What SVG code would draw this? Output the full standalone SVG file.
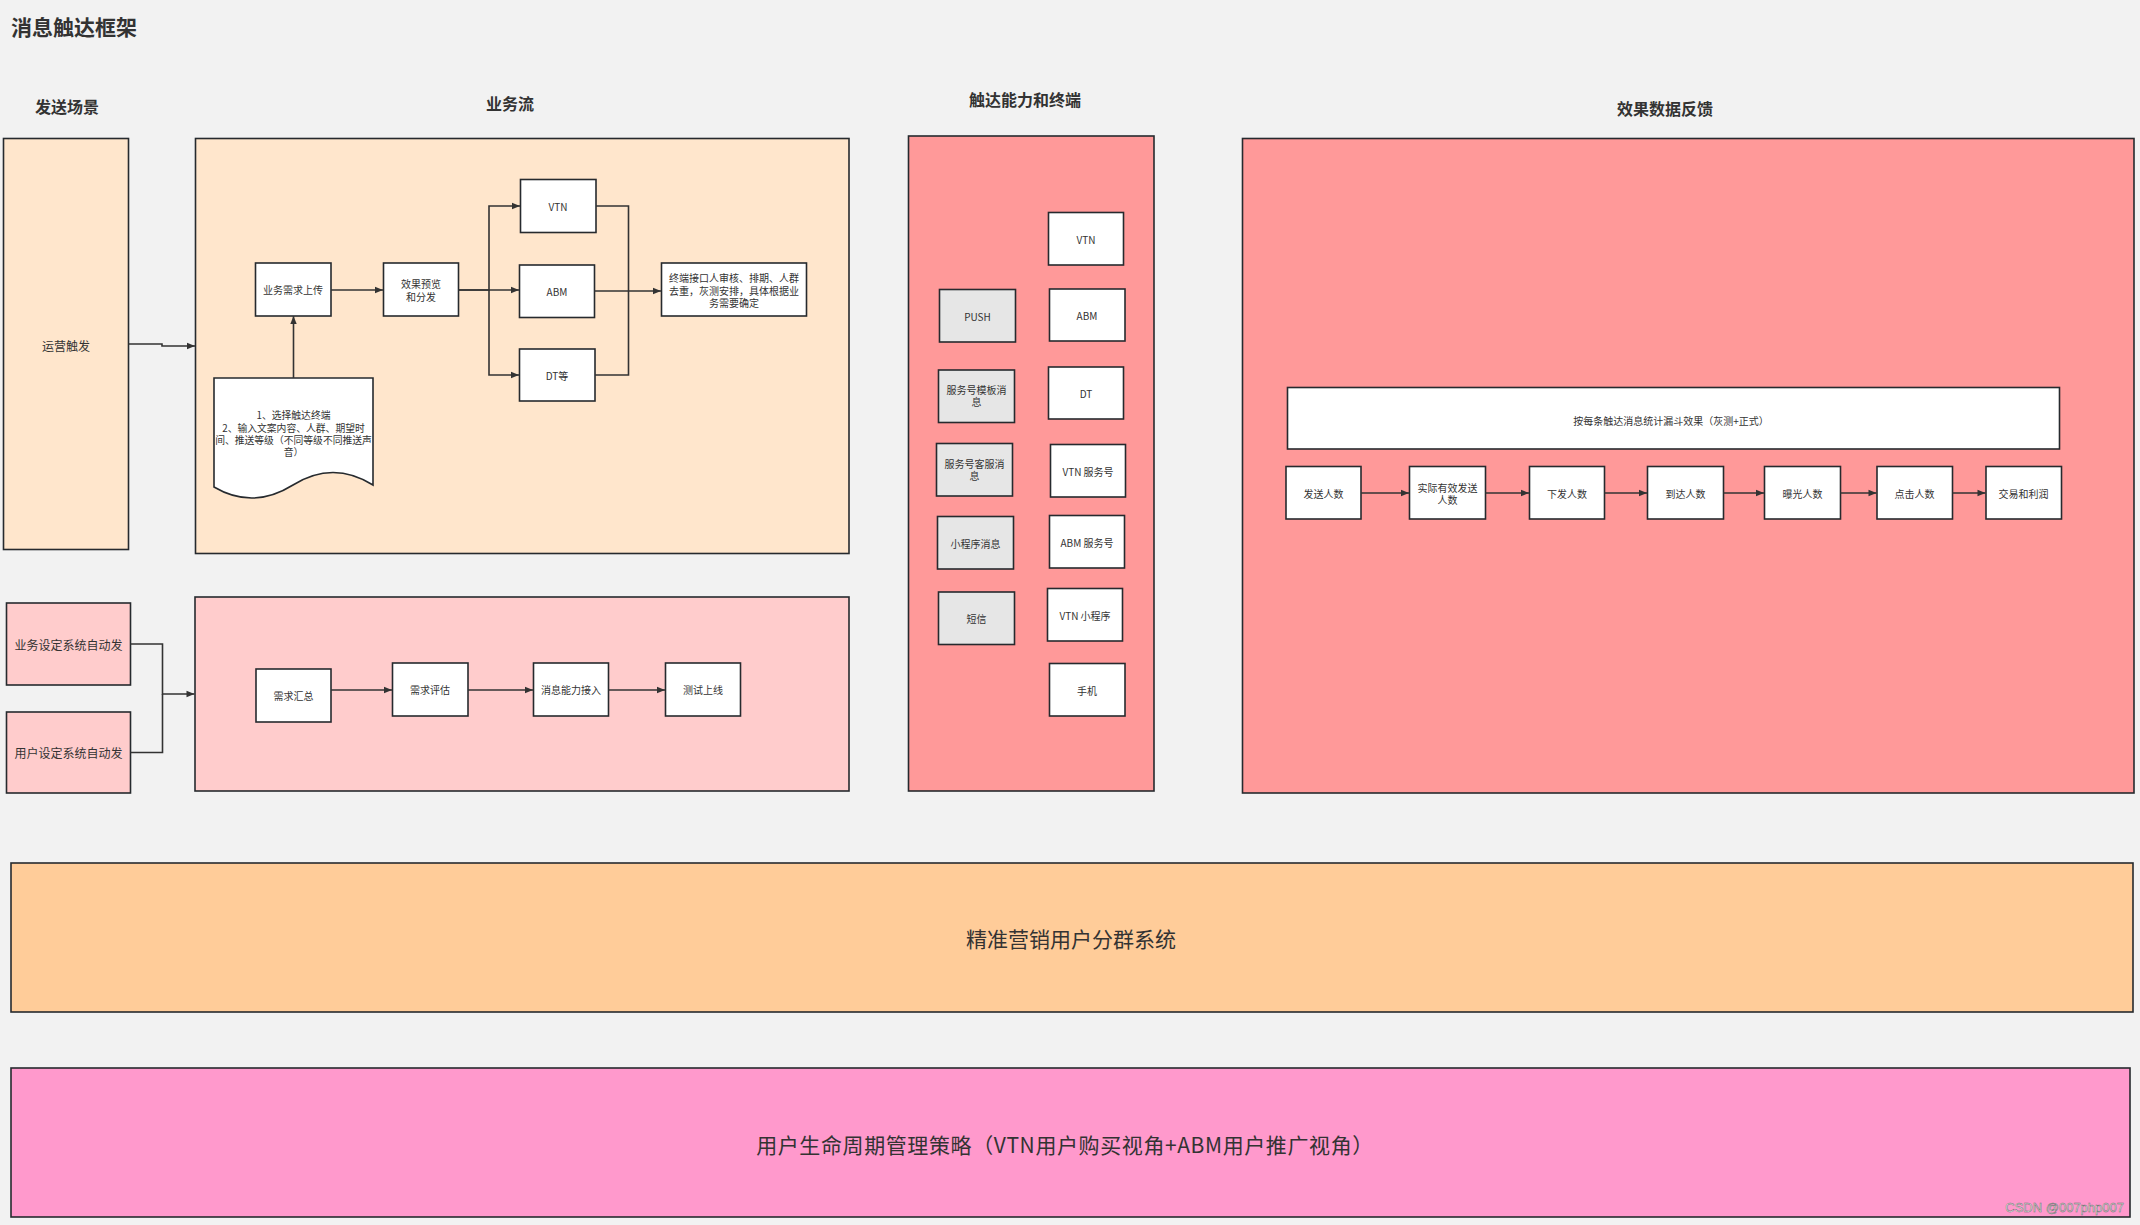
<svg xmlns="http://www.w3.org/2000/svg" width="2140" height="1225" viewBox="0 0 2140 1225">
<style>
text{font-family:"Noto Sans CJK SC","Noto Sans",sans-serif;fill:#333;}
.t{font-size:10px;text-anchor:middle;dominant-baseline:central;}
.m{font-size:12px;text-anchor:middle;dominant-baseline:central;}
.h{font-size:16px;font-weight:bold;text-anchor:middle;}
.big{font-size:21px;text-anchor:middle;dominant-baseline:central;}
.box{stroke:#262a2e;stroke-width:1.6;}
.w{fill:#ffffff;}
.g{fill:#e6e6e6;}
.peach{fill:#ffe6cc;}
.pink{fill:#ffcccc;}
.red{fill:#ff9999;}
.orange{fill:#ffcc99;}
.mag{fill:#ff99cc;}
.c{fill:none;stroke:#333;stroke-width:1.6;}
</style>
<defs>
<marker id="arr" viewBox="0 0 10 10" refX="10" refY="5" markerWidth="9" markerHeight="8" markerUnits="userSpaceOnUse" orient="auto">
<path d="M0,1 L10,5 L0,9 Z" fill="#333"/>
</marker>
</defs>
<rect x="0" y="0" width="2140" height="1225" fill="#f2f2f2"/>

<text x="11" y="35" font-size="21" font-weight="bold">消息触达框架</text>
<text class="h" x="67" y="113">发送场景</text>
<text class="h" x="510" y="110">业务流</text>
<text class="h" x="1025" y="106">触达能力和终端</text>
<text class="h" x="1665" y="115">效果数据反馈</text>

<!-- containers -->
<g id="yunying"><rect class="box peach" x="3.5" y="138.5" width="125" height="411"/><text class="m" x="66" y="345">运营触发</text></g>
<g id="biz-flow"><rect class="box peach" x="195.5" y="138.5" width="653.5" height="415"/></g>
<g id="auto-biz"><rect class="box pink" x="6.5" y="603" width="124" height="82"/><text class="m" x="68.5" y="644">业务设定系统自动发</text></g>
<g id="auto-user"><rect class="box pink" x="6.5" y="712" width="124" height="81"/><text class="m" x="68.5" y="752.5">用户设定系统自动发</text></g>
<g id="req-flow"><rect class="box pink" x="195" y="597" width="654" height="194"/></g>
<g id="touch"><rect class="box red" x="908.5" y="136" width="245.5" height="655"/></g>
<g id="feedback"><rect class="box red" x="1242.5" y="138.5" width="891.5" height="654.5"/></g>

<!-- business flow nodes -->
<g id="upload"><rect class="box w" x="255.5" y="263" width="75.5" height="53"/><text class="t" x="293" y="289.5">业务需求上传</text></g>
<g id="preview"><rect class="box w" x="383.5" y="263" width="75" height="53"/><text class="t" x="421" y="283.5">效果预览</text><text class="t" x="421" y="296">和分发</text></g>
<g id="vtn1"><rect class="box w" x="520.5" y="179.5" width="75.5" height="53"/><text class="t" x="558" y="206">VTN</text></g>
<g id="abm1"><rect class="box w" x="519.5" y="265" width="75" height="52.5"/><text class="t" x="557" y="291">ABM</text></g>
<g id="dt1"><rect class="box w" x="519.5" y="349" width="75.5" height="52"/><text class="t" x="557" y="375">DT等</text></g>
<g id="final"><rect class="box w" x="661.5" y="263" width="145" height="53"/><text class="t" x="734" y="277.5">终端接口人审核、排期、人群</text><text class="t" x="734" y="290">去重，灰测安排，具体根据业</text><text class="t" x="734" y="302.5">务需要确定</text></g>
<g id="doc"><path class="box w" d="M214,378 H373 V485 Q333,460 293,485 Q253,510 214,487 Z"/>
<text class="t" style="font-size:9.8px" x="293.5" y="415">1、选择触达终端</text>
<text class="t" style="font-size:9.8px" x="293.5" y="427.5">2、输入文案内容、人群、期望时</text>
<text class="t" style="font-size:9.8px" x="293.5" y="440">间、推送等级（不同等级不同推送声</text>
<text class="t" style="font-size:9.8px" x="293.5" y="452">音）</text></g>

<!-- request flow nodes -->
<g id="req-sum"><rect class="box w" x="256" y="669" width="75" height="53"/><text class="t" x="293.5" y="695.5">需求汇总</text></g>
<g id="req-eval"><rect class="box w" x="392.5" y="663" width="75.5" height="53"/><text class="t" x="430" y="689.5">需求评估</text></g>
<g id="req-access"><rect class="box w" x="533.5" y="663" width="75" height="53"/><text class="t" x="571" y="689.5">消息能力接入</text></g>
<g id="req-online"><rect class="box w" x="665.5" y="663" width="75" height="53"/><text class="t" x="703" y="689.5">测试上线</text></g>

<!-- touch nodes -->
<g id="t-vtn"><rect class="box w" x="1048.5" y="212.5" width="75" height="52.5"/><text class="t" x="1086" y="239">VTN</text></g>
<g id="t-push"><rect class="box g" x="939.5" y="289.5" width="76" height="52.5"/><text class="t" x="977.5" y="316">PUSH</text></g>
<g id="t-abm"><rect class="box w" x="1049.5" y="289" width="75.5" height="52"/><text class="t" x="1087" y="315">ABM</text></g>
<g id="t-tpl"><rect class="box g" x="938.5" y="370" width="76" height="52.5"/><text class="t" x="976.5" y="389.5">服务号模板消</text><text class="t" x="976.5" y="401.5">息</text></g>
<g id="t-dt"><rect class="box w" x="1048.5" y="367" width="75" height="52"/><text class="t" x="1086" y="393">DT</text></g>
<g id="t-cs"><rect class="box g" x="936.5" y="443.5" width="76" height="52.5"/><text class="t" x="974.5" y="463">服务号客服消</text><text class="t" x="974.5" y="475">息</text></g>
<g id="t-vtnsvc"><rect class="box w" x="1050.5" y="444.5" width="75" height="52.5"/><text class="t" x="1088" y="471">VTN 服务号</text></g>
<g id="t-mini"><rect class="box g" x="937.5" y="516.5" width="76" height="52.5"/><text class="t" x="975.5" y="543">小程序消息</text></g>
<g id="t-abmsvc"><rect class="box w" x="1049.5" y="515.5" width="75" height="52.5"/><text class="t" x="1087" y="542">ABM 服务号</text></g>
<g id="t-sms"><rect class="box g" x="938.5" y="592" width="76" height="52.5"/><text class="t" x="976.5" y="618">短信</text></g>
<g id="t-vtnmini"><rect class="box w" x="1047.5" y="588.5" width="75" height="52.5"/><text class="t" x="1085" y="615">VTN 小程序</text></g>
<g id="t-phone"><rect class="box w" x="1049.5" y="663.5" width="75.5" height="52.5"/><text class="t" x="1087" y="690">手机</text></g>

<!-- feedback nodes -->
<g id="f-stat"><rect class="box w" x="1287.5" y="387.5" width="772" height="61.5"/><text class="t" x="1671" y="420">按每条触达消息统计漏斗效果（灰测+正式）</text></g>
<g id="f-send"><rect class="box w" x="1286" y="466.5" width="75" height="52.5"/><text class="t" x="1323.5" y="493">发送人数</text></g>
<g id="f-valid"><rect class="box w" x="1409.5" y="466.5" width="76" height="52.5"/><text class="t" x="1447.5" y="487">实际有效发送</text><text class="t" x="1447.5" y="499.5">人数</text></g>
<g id="f-deliver"><rect class="box w" x="1529.5" y="466.5" width="75" height="52.5"/><text class="t" x="1567" y="493">下发人数</text></g>
<g id="f-arrive"><rect class="box w" x="1647.5" y="466.5" width="76" height="52.5"/><text class="t" x="1685.5" y="493">到达人数</text></g>
<g id="f-expose"><rect class="box w" x="1764.5" y="466.5" width="76" height="52.5"/><text class="t" x="1802.5" y="493">曝光人数</text></g>
<g id="f-click"><rect class="box w" x="1877" y="466.5" width="75.5" height="52.5"/><text class="t" x="1914.5" y="493">点击人数</text></g>
<g id="f-trade"><rect class="box w" x="1986" y="466.5" width="75.5" height="52.5"/><text class="t" x="2023.5" y="493">交易和利润</text></g>

<!-- bottom layers -->
<g id="segment-system"><rect class="box orange" x="11" y="863" width="2122" height="149" stroke-width="2"/><text class="big" x="1071" y="938">精准营销用户分群系统</text></g>
<g id="lifecycle"><rect class="box mag" x="11" y="1068" width="2119" height="149" stroke-width="2"/><text class="big" x="1065" y="1144" letter-spacing="0.6">用户生命周期管理策略（VTN用户购买视角+ABM用户推广视角）</text></g>

<!-- connectors -->
<g id="connectors">
<path class="c" d="M128.5,344 H162 V346 H195" marker-end="url(#arr)"/>
<path class="c" d="M293.5,378 V316" marker-end="url(#arr)"/>
<path class="c" d="M331,290 H383" marker-end="url(#arr)"/>
<path class="c" d="M458.5,290 H489 V206 H520" marker-end="url(#arr)"/>
<path class="c" d="M458.5,290 H519" marker-end="url(#arr)"/>
<path class="c" d="M489,290 V375 H519" marker-end="url(#arr)"/>
<path class="c" d="M596,206 H628.5 V291"/>
<path class="c" d="M595,375 H628.5 V291"/>
<path class="c" d="M594.5,291 H661" marker-end="url(#arr)"/>
<path class="c" d="M130.5,644 H162.5 V694 H194.5" marker-end="url(#arr)"/>
<path class="c" d="M130.5,752.5 H162.5 V694"/>
<path class="c" d="M331,690 H392" marker-end="url(#arr)"/>
<path class="c" d="M468,690 H533" marker-end="url(#arr)"/>
<path class="c" d="M608.5,690 H665" marker-end="url(#arr)"/>
<path class="c" d="M1361,493 H1409" marker-end="url(#arr)"/>
<path class="c" d="M1485.5,493 H1529" marker-end="url(#arr)"/>
<path class="c" d="M1604.5,493 H1647" marker-end="url(#arr)"/>
<path class="c" d="M1723.5,493 H1764" marker-end="url(#arr)"/>
<path class="c" d="M1840.5,493 H1876.5" marker-end="url(#arr)"/>
<path class="c" d="M1952.5,493 H1985.5" marker-end="url(#arr)"/>
</g>

<text x="2124" y="1212" font-size="13" text-anchor="end" style="fill:#f4f4f4;stroke:#6e6e6e;stroke-width:0.5;font-family:'Liberation Sans',sans-serif">CSDN @007php007</text>
</svg>
